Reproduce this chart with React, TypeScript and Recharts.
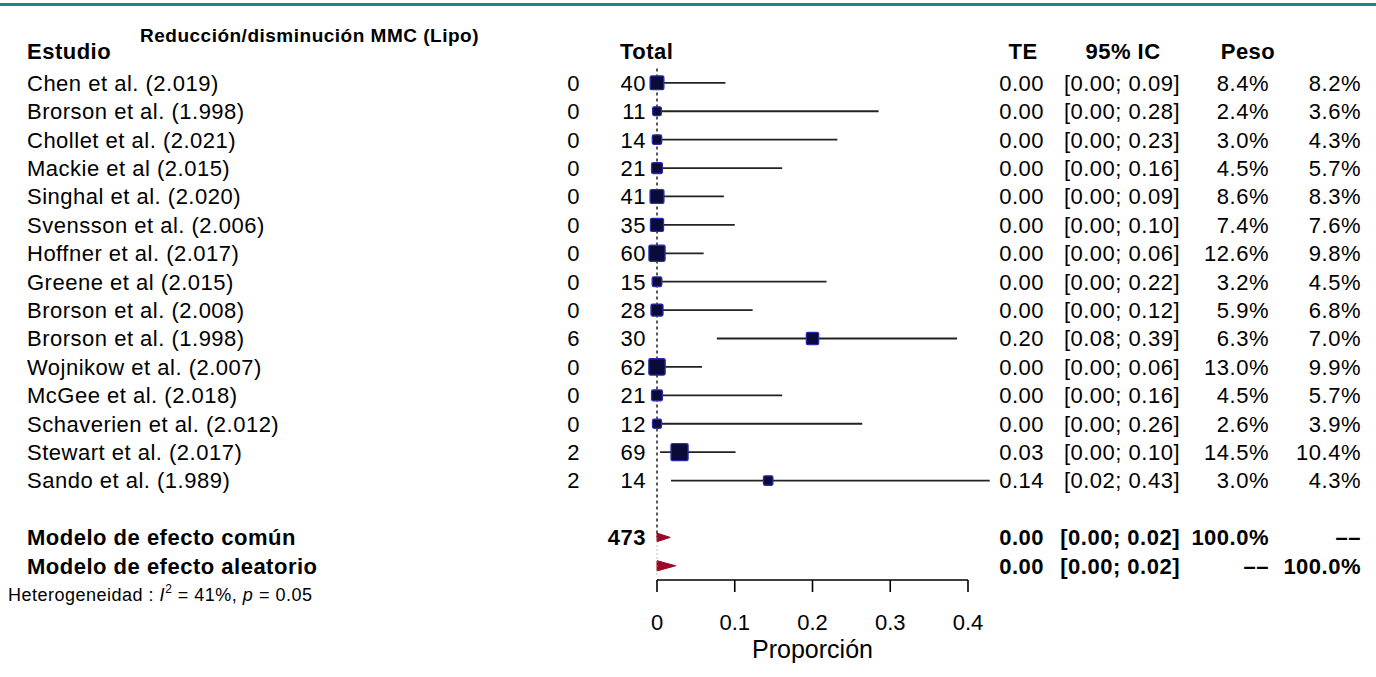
import { ComposedChart, XAxis, YAxis, Scatter, ReferenceLine, ReferenceArea } from 'recharts';

const FONT = '"Liberation Sans", Arial, Helvetica, sans-serif';

// study rows (top to bottom)
const studies = [
  'Chen et al. (2.019)',
  'Brorson et al. (1.998)',
  'Chollet et al. (2.021)',
  'Mackie et al (2.015)',
  'Singhal et al. (2.020)',
  'Svensson et al. (2.006)',
  'Hoffner et al. (2.017)',
  'Greene et al (2.015)',
  'Brorson et al. (2.008)',
  'Brorson et al. (1.998)',
  'Wojnikow et al. (2.007)',
  'McGee et al. (2.018)',
  'Schaverien et al. (2.012)',
  'Stewart et al. (2.017)',
  'Sando et al. (1.989)',
];
const events = [0, 0, 0, 0, 0, 0, 0, 0, 0, 6, 0, 0, 0, 2, 2];
const totals = [40, 11, 14, 21, 41, 35, 60, 15, 28, 30, 62, 21, 12, 69, 14];
const te = [0, 0, 0, 0, 0, 0, 0, 0, 0, 0.2, 0, 0, 0, 0.029, 0.143];
const ciLow = [0, 0, 0, 0, 0, 0, 0, 0, 0, 0.077, 0, 0, 0, 0.004, 0.018];
const ciHigh = [0.088, 0.285, 0.232, 0.161, 0.086, 0.1, 0.06, 0.218, 0.123, 0.386, 0.058, 0.161, 0.264, 0.101, 0.428];
const weightCommon = [8.4, 2.4, 3.0, 4.5, 8.6, 7.4, 12.6, 3.2, 5.9, 6.3, 13.0, 4.5, 2.6, 14.5, 3.0];
const weightRandom = [8.2, 3.6, 4.3, 5.7, 8.3, 7.6, 9.8, 4.5, 6.8, 7.0, 9.9, 5.7, 3.9, 10.4, 4.3];

// pooled estimates
const modelNames = ['Modelo de efecto común', 'Modelo de efecto aleatorio'];
const modelTe = [0.0, 0.0];
const modelLow = [0.0, 0.0];
const modelHigh = [0.017, 0.024];
const modelWeightCommon = ['100.0%', '\u2013\u2013'];
const modelWeightRandom = ['\u2013\u2013', '100.0%'];
const pooledTotal = 473;

const xTicks = [0, 0.1, 0.2, 0.3, 0.4];

const studyData = studies.map((name, i) => ({
  x: te[i],
  y: i,
  name,
  events: events[i],
  total: totals[i],
  te: te[i],
  lo: ciLow[i],
  hi: ciHigh[i],
  wc: weightCommon[i],
  wr: weightRandom[i],
}));

const MODEL_ROW0 = studies.length + 1;
const modelData = modelNames.map((name, i) => ({
  x: modelTe[i],
  y: MODEL_ROW0 + i,
  name,
  te: modelTe[i],
  lo: modelLow[i],
  hi: modelHigh[i],
  wc: modelWeightCommon[i],
  wr: modelWeightRandom[i],
  total: i === 0 ? pooledTotal : null,
}));

const txt = { fontFamily: FONT, fontSize: 22, letterSpacing: 0.5, fill: '#000' };

const StudyRow = (props: any) => {
  const { cx, cy, payload } = props;
  const side = 3 + 3.7 * Math.sqrt(payload.wc);
  return (
    <g>
      <rect
        x={cx - side / 2}
        y={cy - side / 2}
        width={side}
        height={side}
        rx={1.5}
        fill="#0b0b3a"
        stroke="#2b2bb0"
        strokeWidth={1.3}
      />
      <text x={27} y={cy} dy="0.36em" style={txt}>{payload.name}</text>
      <text x={580} y={cy} dy="0.36em" textAnchor="end" style={txt}>{payload.events}</text>
      <text x={646} y={cy} dy="0.36em" textAnchor="end" style={txt}>{payload.total}</text>
      <text x={1044} y={cy} dy="0.36em" textAnchor="end" style={txt}>{payload.te.toFixed(2)}</text>
      <text x={1180} y={cy} dy="0.36em" textAnchor="end" style={txt}>
        {`[${payload.lo.toFixed(2)}; ${payload.hi.toFixed(2)}]`}
      </text>
      <text x={1269} y={cy} dy="0.36em" textAnchor="end" style={txt}>{payload.wc.toFixed(1) + '%'}</text>
      <text x={1361} y={cy} dy="0.36em" textAnchor="end" style={txt}>{payload.wr.toFixed(1) + '%'}</text>
    </g>
  );
};

const ModelRow = (props: any) => {
  const { cy, payload } = props;
  const b = { ...txt, fontWeight: 'bold' as const };
  return (
    <g>
      <text x={27} y={cy} dy="0.36em" style={b}>{payload.name}</text>
      {payload.total !== null && (
        <text x={646} y={cy} dy="0.36em" textAnchor="end" style={b}>{payload.total}</text>
      )}
      <text x={1044} y={cy} dy="0.36em" textAnchor="end" style={b}>{payload.te.toFixed(2)}</text>
      <text x={1180} y={cy} dy="0.36em" textAnchor="end" style={b}>
        {`[${payload.lo.toFixed(2)}; ${payload.hi.toFixed(2)}]`}
      </text>
      <text x={1269} y={cy} dy="0.36em" textAnchor="end" style={b}>{payload.wc}</text>
      <text x={1361} y={cy} dy="0.36em" textAnchor="end" style={b}>{payload.wr}</text>
    </g>
  );
};

// diamond drawn inside the ReferenceArea box (lo..hi), peak at the estimate
const makeDiamond = (est: number, lo: number, hi: number) => (props: any) => {
  const { x, y, width, height } = props;
  const ex = x + (hi > lo ? ((est - lo) / (hi - lo)) * width : 0);
  const my = y + height / 2;
  const pts = `${x},${my} ${ex},${y} ${x + width},${my} ${ex},${y + height}`;
  return <polygon points={pts} fill="#9a0a26" stroke="#9a0a26" strokeWidth={1} />;
};

export default function App() {
  return (
    <div style={{ position: 'absolute', left: 0, top: 0, width: 1376, height: 677, background: '#fff' }}>
      <svg width={1376} height={677} style={{ position: 'absolute', left: 0, top: 0 }}>
        <rect x={0} y={3} width={1376} height={3} fill="#17888b" />
        <text x={140} y={42} style={{ ...txt, fontSize: 19, fontWeight: 'bold' }}>
          Reducción/disminución MMC (Lipo)
        </text>
        <text x={27} y={59} style={{ ...txt, fontWeight: 'bold' }}>Estudio</text>
        <text x={620} y={59} style={{ ...txt, fontWeight: 'bold' }}>Total</text>
        <text x={1023} y={59} textAnchor="middle" style={{ ...txt, fontWeight: 'bold' }}>TE</text>
        <text x={1123} y={59} textAnchor="middle" style={{ ...txt, fontWeight: 'bold' }}>95% IC</text>
        <text x={1248} y={59} textAnchor="middle" style={{ ...txt, fontWeight: 'bold' }}>Peso</text>
        <text x={8} y={601} style={{ ...txt, fontSize: 18 }}>
          <tspan>Heterogeneidad : </tspan>
          <tspan fontStyle="italic">I</tspan>
          <tspan dy={-8} fontSize={12}>2</tspan>
          <tspan dy={8}> = 41%, </tspan>
          <tspan fontStyle="italic">p</tspan>
          <tspan> = 0.05</tspan>
        </text>
      </svg>
      <div style={{ position: 'absolute', left: 0, top: 0 }}>
        <ComposedChart width={1376} height={677} margin={{ top: 26, right: 408, bottom: 0, left: 657 }}>
          <XAxis
            type="number"
            dataKey="x"
            domain={[0, 0.4]}
            ticks={xTicks}
            height={97}
            tickSize={12}
            tickMargin={22}
            stroke="#000"
            strokeWidth={1.6}
            tick={{ fill: '#000', fontSize: 22, fontFamily: FONT }}
            label={{
              value: 'Proporción',
              position: 'insideBottom',
              offset: 19,
              style: { fill: '#000', fontSize: 25, fontFamily: FONT },
            }}
          />
          <YAxis type="number" dataKey="y" domain={[-2, 17.5]} reversed hide />
          <ReferenceLine
            segment={[{ x: 0, y: -0.5 }, { x: 0, y: MODEL_ROW0 }]}
            stroke="#222"
            strokeWidth={1.5}
            strokeDasharray="3 3"
            ifOverflow="visible"
          />
          <ReferenceLine
            segment={[{ x: 0, y: MODEL_ROW0 }, { x: 0, y: 17.4 }]}
            stroke="#999"
            strokeWidth={1.2}
            strokeDasharray="1 3"
            ifOverflow="visible"
          />
          {studyData.map((d) => (
            <ReferenceLine
              key={'ci' + d.y}
              segment={[{ x: d.lo, y: d.y }, { x: d.hi, y: d.y }]}
              stroke="#222"
              strokeWidth={1.8}
              ifOverflow="visible"
            />
          ))}
          {modelData.map((d, i) => (
            <ReferenceArea
              key={'dm' + i}
              x1={d.lo}
              x2={d.hi}
              y1={d.y - (i === 0 ? 0.15 : 0.18)}
              y2={d.y + (i === 0 ? 0.15 : 0.18)}
              ifOverflow="visible"
              shape={makeDiamond(d.te, d.lo, d.hi)}
            />
          ))}
          <Scatter data={studyData} shape={StudyRow} isAnimationActive={false} />
          <Scatter data={modelData} shape={ModelRow} isAnimationActive={false} />
        </ComposedChart>
      </div>
    </div>
  );
}
